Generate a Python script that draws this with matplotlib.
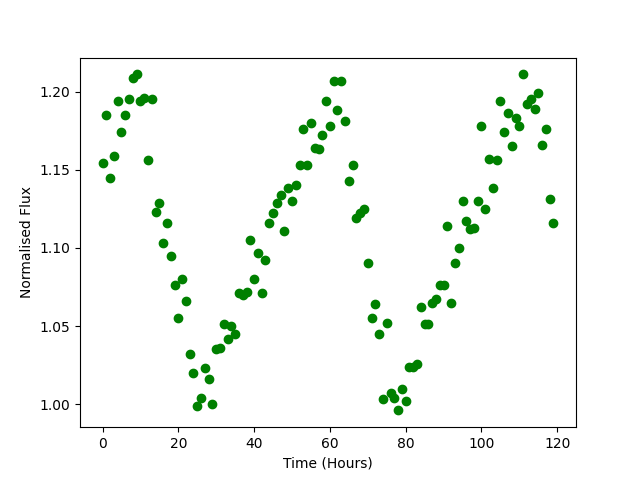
import numpy as np
import matplotlib
matplotlib.use('Agg')
import matplotlib.pyplot as plt

# hourly flux measurements
time = np.arange(120)
flux = [1.154, 1.185, 1.145, 1.159, 1.194, 1.174, 1.185, 1.195, 1.209, 1.211,
        1.194, 1.196, 1.156, 1.195, 1.123, 1.129, 1.103, 1.116, 1.095, 1.076,
        1.055, 1.080, 1.066, 1.032, 1.020, 0.999, 1.004, 1.023, 1.016, 1.000,
        1.035, 1.036, 1.051, 1.042, 1.050, 1.045, 1.071, 1.070, 1.072, 1.105,
        1.080, 1.097, 1.071, 1.092, 1.116, 1.122, 1.129, 1.134, 1.111, 1.138,
        1.130, 1.140, 1.153, 1.176, 1.153, 1.180, 1.164, 1.163, 1.172, 1.194,
        1.178, 1.207, 1.188, 1.207, 1.181, 1.143, 1.153, 1.119, 1.122, 1.125,
        1.090, 1.055, 1.064, 1.045, 1.003, 1.052, 1.007, 1.004, 0.996, 1.010,
        1.002, 1.024, 1.024, 1.026, 1.062, 1.051, 1.051, 1.065, 1.067, 1.076,
        1.076, 1.114, 1.065, 1.090, 1.100, 1.130, 1.117, 1.112, 1.113, 1.130,
        1.178, 1.125, 1.157, 1.138, 1.156, 1.194, 1.174, 1.186, 1.165, 1.183,
        1.178, 1.211, 1.192, 1.195, 1.189, 1.199, 1.166, 1.176, 1.131, 1.116]

plt.figure(figsize=(6.4, 4.8), dpi=100)
plt.scatter(time, flux, color='green')
plt.xlabel('Time (Hours)')
plt.ylabel('Normalised Flux')
plt.savefig('out.png')
